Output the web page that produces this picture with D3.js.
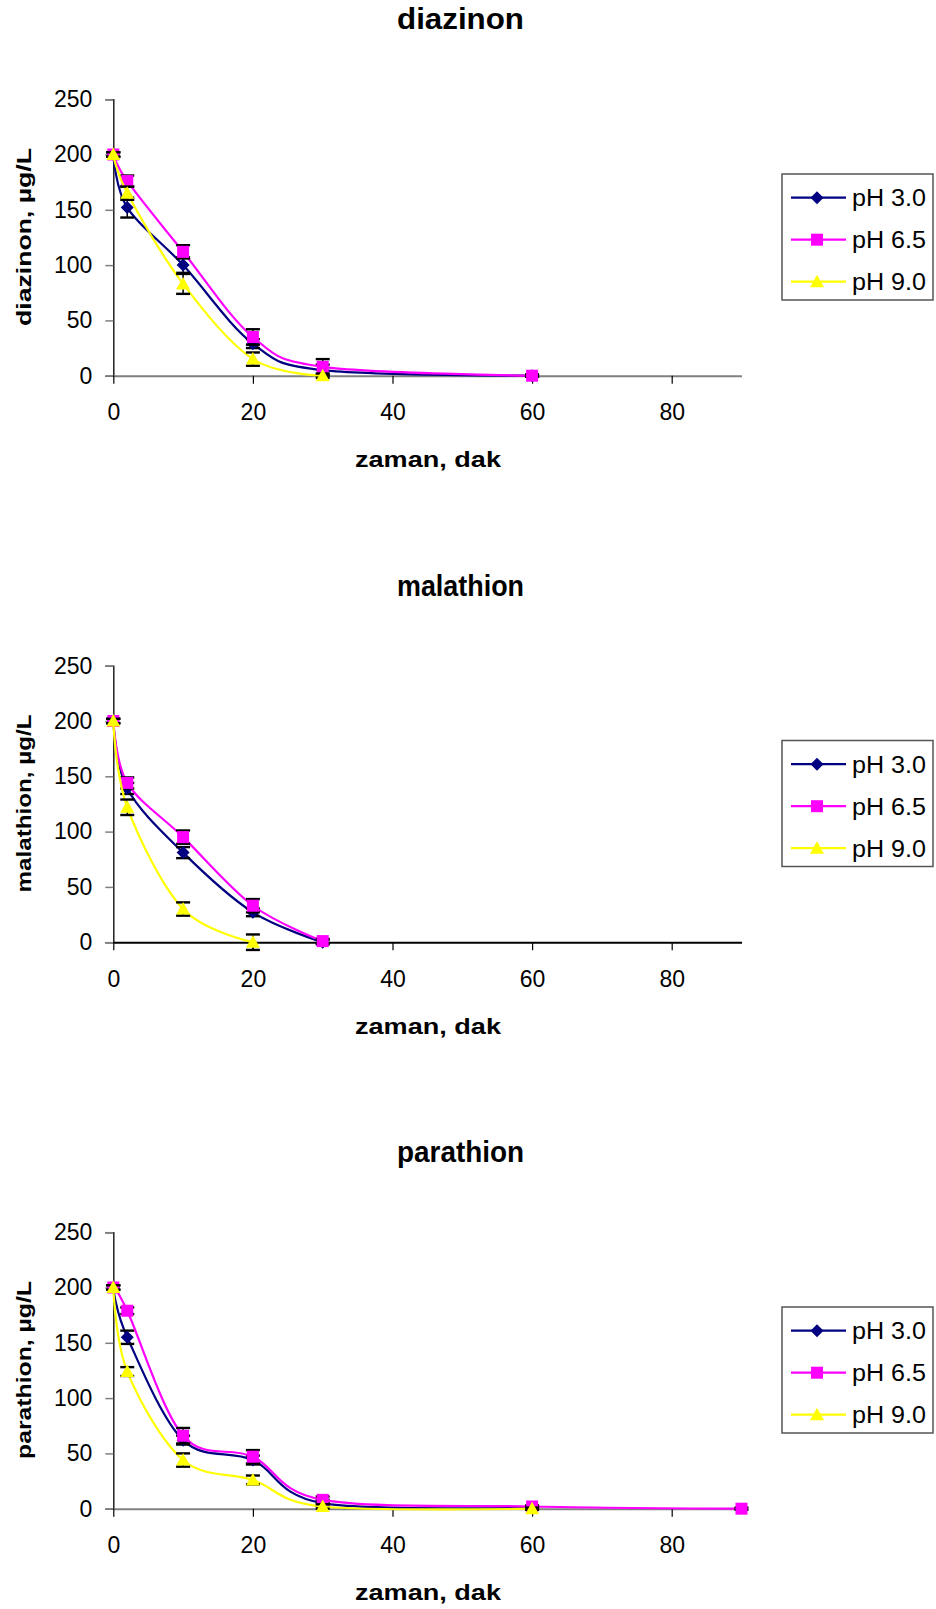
<!DOCTYPE html>
<html>
<head>
<meta charset="utf-8">
<script src="https://cdn.jsdelivr.net/npm/d3@7"></script>
<style>
  body { margin: 0; background: #fff; }
  text { font-family: "Liberation Sans", Arial, sans-serif; fill: #000; }
</style>
</head>
<body>
<div id="chart"></div>
<script>
// chart data
var pesticides = ["diazinon", "malathion", "parathion"];
var seriesNames = ["pH 3.0", "pH 6.5", "pH 9.0"];
var seriesColors = ["#000080", "#ff00ff", "#ffff00"];
var xTicks = [0, 20, 40, 60, 80];
var yTicks = [0, 50, 100, 150, 200, 250];

var diazinonTime = [[0, 2, 10, 20, 30, 60], [0, 2, 10, 20, 30, 60], [0, 2, 10, 20, 30]];
var diazinonValues = [[200, 152, 100, 29, 5, 0], [200, 176, 112, 35, 8, 0], [200, 165, 83, 15, 0]];
var diazinonErrors = [[2, 9, 7, 4, 5, 1], [2, 5, 6, 7, 7, 1], [2, 6, 9, 6, 2]];

var malathionTime = [[0, 2, 10, 20, 30], [0, 2, 10, 20, 30], [0, 2, 10, 20]];
var malathionValues = [[200, 139, 81, 27, 0], [200, 144, 95, 33, 1], [200, 122, 30, 0]];
var malathionErrors = [[2, 5, 5, 3.5, 2], [2, 5, 6, 6, 2], [2, 7, 6, 7]];

var parathionTime = [[0, 2, 10, 20, 30, 60], [0, 2, 10, 20, 30, 60, 90], [0, 2, 10, 20, 30, 60]];
var parathionValues = [[200, 155, 62, 44, 5, 1], [200, 179, 66, 47, 8, 2, 0], [200, 124, 44, 26, 2, 0]];
var parathionErrors = [[2, 6, 4, 4, 3, 1], [2, 3, 7, 6, 3, 1, 1], [2, 4, 6, 4, 2, 1]];

var panels = [
  { name: pesticides[0], t: diazinonTime, v: diazinonValues, e: diazinonErrors, axisColor: "#808080" },
  { name: pesticides[1], t: malathionTime, v: malathionValues, e: malathionErrors, axisColor: "#000" },
  { name: pesticides[2], t: parathionTime, v: parathionValues, e: parathionErrors, axisColor: "#808080" }
];

var svgWidth = 936;
var svgHeight = 1609;
var panelStep = 566.5;

var svg = d3.select("#chart")
  .append("svg")
  .attr("width", svgWidth)
  .attr("height", svgHeight);

var xScale = d3.scaleLinear().domain([0, 90]).range([113.3, 741.5]);
var yScale = d3.scaleLinear().domain([0, 250]).range([375.7, 99.2]);

// marker shapes (Excel style)
function markerPath(i) {
  if (i === 0) return "M0,-6.5L6.5,0L0,6.5L-6.5,0Z";
  if (i === 1) return "M-6,-6H6V6H-6Z";
  return "M0,-7L7,5.5L-7,5.5Z";
}

var line = d3.line()
  .x(d => xScale(d.t))
  .y(d => yScale(d.v))
  .curve(d3.curveCardinal.tension(0));

panels.forEach(function(p, pi) {
  var g = svg.append("g").attr("transform", `translate(0, ${pi * panelStep})`);

  // title
  g.append("text")
    .attr("x", 460.5).attr("y", 29)
    .attr("text-anchor", "middle")
    .style("font-size", "30px").style("font-weight", "bold")
    .attr("textLength", 127).attr("lengthAdjust", "spacingAndGlyphs")
    .text(p.name);

  // y axis
  var leftAxis = d3.axisLeft(yScale).tickValues(yTicks).tickSize(8).tickPadding(13);
  var gy = g.append("g").attr("transform", "translate(113.3, 0)").call(leftAxis);
  gy.select(".domain").attr("stroke", "#222").attr("stroke-width", 1.5);
  gy.selectAll(".tick line").attr("stroke", "#808080").attr("stroke-width", 1.5);
  gy.selectAll(".tick text").style("font-size", "23px").attr("font-family", null);

  // x axis
  var bottomAxis = d3.axisBottom(xScale).tickValues(xTicks).tickSize(8).tickSizeOuter(0).tickPadding(20);
  var gx = g.append("g").attr("transform", "translate(0, 375.7)").call(bottomAxis);
  gx.select(".domain").attr("stroke", p.axisColor).attr("stroke-width", 2);
  gx.selectAll(".tick line").attr("stroke", "#000").attr("stroke-width", 1.2);
  gx.selectAll(".tick text").style("font-size", "23px").attr("font-family", null);

  // axis titles
  g.append("text")
    .attr("x", 428).attr("y", 467)
    .attr("text-anchor", "middle")
    .style("font-size", "22px").style("font-weight", "bold")
    .attr("textLength", 146).attr("lengthAdjust", "spacingAndGlyphs")
    .text("zaman, dak");

  g.append("text")
    .attr("transform", "translate(24, 237) rotate(-90)")
    .attr("dy", "0.32em")
    .attr("text-anchor", "middle")
    .style("font-size", "21px").style("font-weight", "bold")
    .attr("textLength", 178).attr("lengthAdjust", "spacingAndGlyphs")
    .text(p.name + ", µg/L");

  // series
  seriesNames.forEach(function(s, si) {
    var pts = p.t[si].map((t, k) => ({ t: t, v: p.v[si][k], e: p.e[si][k] }));
    var sg = g.append("g");

    sg.append("path")
      .datum(pts)
      .attr("fill", "none")
      .attr("stroke", seriesColors[si])
      .attr("stroke-width", 2.2)
      .attr("d", line);

    var eb = sg.selectAll(".err").data(pts).enter().append("g").attr("class", "err");
    eb.append("line")
      .attr("x1", d => xScale(d.t)).attr("x2", d => xScale(d.t))
      .attr("y1", d => yScale(d.v - d.e)).attr("y2", d => yScale(d.v + d.e))
      .attr("stroke", "#000").attr("stroke-width", 1.5);
    [-1, 1].forEach(function(sign) {
      eb.append("line")
        .attr("x1", d => xScale(d.t) - 7).attr("x2", d => xScale(d.t) + 7)
        .attr("y1", d => yScale(d.v + sign * d.e)).attr("y2", d => yScale(d.v + sign * d.e))
        .attr("stroke", "#000").attr("stroke-width", 2.4);
    });

    sg.selectAll(".mk").data(pts).enter().append("path")
      .attr("class", "mk")
      .attr("transform", d => `translate(${xScale(d.t)}, ${yScale(d.v)})`)
      .attr("d", markerPath(si))
      .attr("fill", seriesColors[si]);
  });

  // legend
  var lg = g.append("g").attr("transform", "translate(782, 174)");
  lg.append("rect")
    .attr("width", 151).attr("height", 126)
    .attr("fill", "#fff").attr("stroke", "#555").attr("stroke-width", 1.5);
  seriesNames.forEach(function(s, si) {
    var yy = 23.7 + si * 42;
    lg.append("line")
      .attr("x1", 9).attr("x2", 64).attr("y1", yy).attr("y2", yy)
      .attr("stroke", seriesColors[si]).attr("stroke-width", 2.2);
    lg.append("path")
      .attr("transform", `translate(35, ${yy})`)
      .attr("d", markerPath(si))
      .attr("fill", seriesColors[si]);
    lg.append("text")
      .attr("x", 70).attr("y", yy + 8.5)
      .style("font-size", "23px")
      .attr("textLength", 74).attr("lengthAdjust", "spacingAndGlyphs")
      .text(s);
  });
});
</script>
</body>
</html>
